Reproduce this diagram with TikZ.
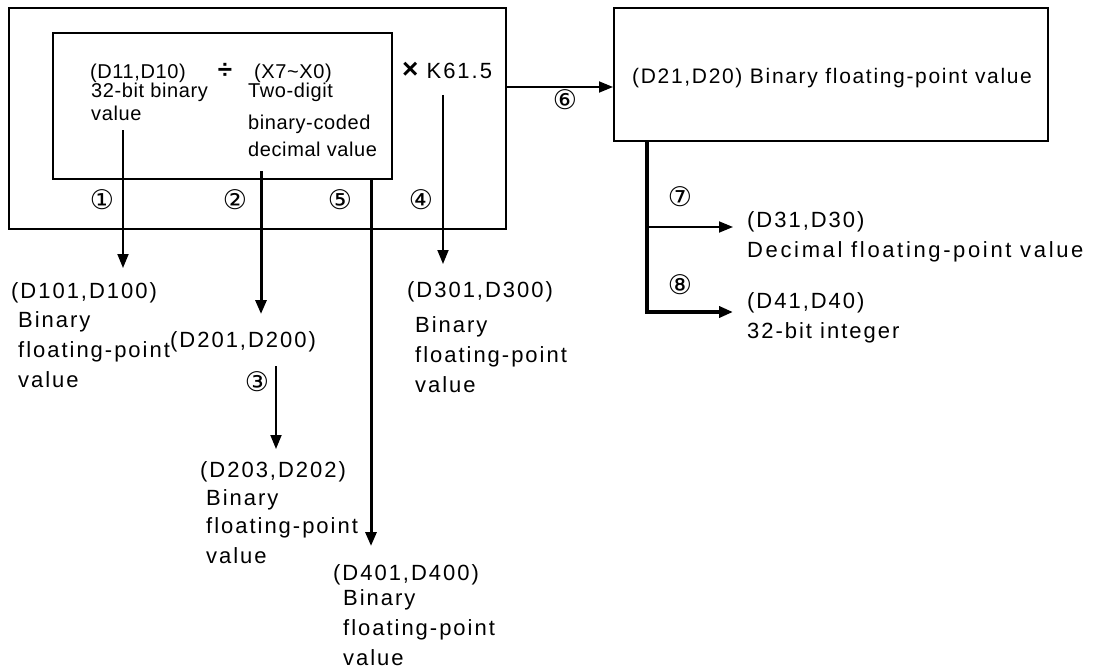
\documentclass[tikz,border=0pt]{standalone}
\usepackage{fontspec}
\setmainfont{Liberation Sans}[LetterSpace=9]
\newfontfamily\circfont{DejaVu Sans}
\usetikzlibrary{arrows.meta}
\usetikzlibrary{positioning}
\tikzset{
  txt/.style={anchor=base west, inner sep=0pt, font=\fontsize{22}{26}\selectfont},
  txts/.style={anchor=base west, inner sep=0pt, font=\fontsize{20}{24}\selectfont\addfontfeatures{LetterSpace=3}},
  num/.style={inner sep=0pt, font=\circfont\fontsize{27}{27}\selectfont},
  box/.style={draw, line width=2pt, anchor=north west, inner sep=0pt},
  edge/.style = {-{Triangle[length=14pt,width=11pt]}, line width=1.8pt},
  edgem/.style = {-{Triangle[length=14pt,width=11pt]}, line width=3pt},
  edgeb/.style = {-{Triangle[length=14pt,width=11pt]}, line width=4pt},
}

\begin{document}
\begin{tikzpicture}[x=1pt, y=-1pt]
\useasboundingbox (0,0) rectangle (1096,669);

% boxes
\node[box, minimum width=497pt, minimum height=221pt] (outer) at (8,7) {};
\node[box, minimum width=339pt, minimum height=146pt] (inner) at (52,32) {};
\node[box, minimum width=434pt, minimum height=133pt] (result) at (613,7) {};

% inside the first box
\node[txts] (d11) at (90,78) {(D11,D10)};
\node[inner sep=0pt, font=\fontsize{26}{26}\selectfont\bfseries] (div) at (225,71) {÷};
\node[txts] (x7) at (254,78) {(X7\char`\~X0)};
\node[txts] (d11a) at (91,98) {32-bit binary};
\node[txts] (d11b) at (91,121) {value};
\node[txts] (x7a) at (248,98) {Two-digit};
\node[txts] (x7b) at (248,129) {binary-coded};
\node[txts] (x7c) at (248,157) {decimal value};
\node[txt] (k615) at (402,78) {{\fontsize{28}{28}\selectfont\bfseries ×} K61.5};

\node[txt, font=\fontsize{21}{25}\selectfont\addfontfeatures{LetterSpace=8}] (d21) at (632,84) {(D21,D20) Binary floating-point value};

% results
\node[txt] (d101) at (11,298) {(D101,D100)};
\node[txt] (d101a) at (18,327) {Binary};
\node[txt] (d101b) at (18,357) {floating-point};
\node[txt] (d101c) at (18,387) {value};

\node[txt] (d201) at (170,347) {(D201,D200)};

\node[txt] (d203) at (200,477) {(D203,D202)};
\node[txt] (d203a) at (206,505) {Binary};
\node[txt] (d203b) at (206,533) {floating-point};
\node[txt] (d203c) at (206,563) {value};

\node[txt] (d301) at (407,297) {(D301,D300)};
\node[txt] (d301a) at (415,332) {Binary};
\node[txt] (d301b) at (415,362) {floating-point};
\node[txt] (d301c) at (415,392) {value};

\node[txt] (d401) at (333,580) {(D401,D400)};
\node[txt] (d401a) at (343,605) {Binary};
\node[txt] (d401b) at (343,635) {floating-point};
\node[txt] (d401c) at (343,665) {value};

\node[txt] (d31) at (747,227) {(D31,D30)};
\node[txt, font=\fontsize{22}{26}\selectfont\addfontfeatures{LetterSpace=12}] (d31a) at (747,257) {Decimal floating-point value};
\node[txt] (d41) at (747,308) {(D41,D40)};
\node[txt] (d41a) at (747,338) {32-bit integer};

% step numbers
\node[num] (n1) at (102,200) {①};
\node[num] (n2) at (235,200) {②};
\node[num] (n5) at (340,200) {⑤};
\node[num] (n4) at (421,200) {④};
\node[num] (n6) at (565,100) {⑥};
\node[num] (n3) at (257,382) {③};
\node[num] (n7) at (680,197) {⑦};
\node[num] (n8) at (680,285) {⑧};

% ends of the connectors
\coordinate (s1) at (123,130);
\coordinate (t1) at (123,268);
\coordinate (s2) at (261,171);
\coordinate (t2) at (261,314);
\coordinate (s3) at (276,366);
\coordinate (t3) at (276,449);
\coordinate (s4) at (443,95);
\coordinate (t4) at (443,264);
\coordinate (s5) at (371,178);
\coordinate (t5) at (371,546);
\coordinate (s6) at (505,87);
\coordinate (s7) at (647,140);
\coordinate (b7) at (647,227);
\coordinate (t7) at (733,227);
\coordinate (t8) at (733,312);

\draw[edge] (s1) -- (t1);
\draw[edgem] (s2) -- (t2);
\draw[edge] (s3) -- (t3);
\draw[edge] (s4) -- (t4);
\draw[edgem] (s5) -- (t5);
\draw[edge] (s6) -- (s6 -| result.west);
\draw[edge] (b7) -- (t7);
\draw[edgeb] (s7) |- (t8);

\end{tikzpicture}
\end{document}
